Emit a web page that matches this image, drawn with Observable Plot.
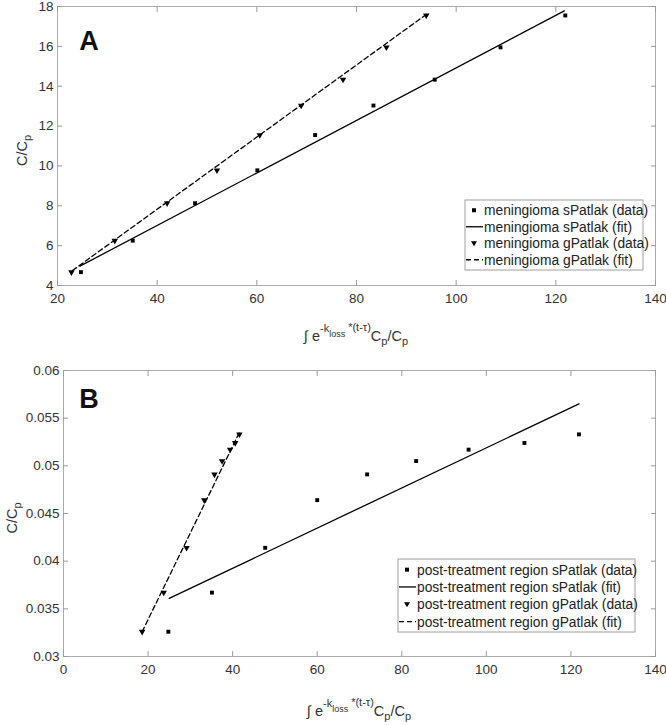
<!DOCTYPE html>
<html><head><meta charset="utf-8">
<script src="https://cdn.jsdelivr.net/npm/d3@7"></script>
<script src="https://cdn.jsdelivr.net/npm/@observablehq/plot@0.6"></script>
<style>
body{margin:0;background:#fff;}
#chart{width:666px;height:725px;}
svg{display:block}
</style></head><body><div id="chart"></div>
<script>
// ---- tick values ----
const xTicksA = [20, 40, 60, 80, 100, 120, 140];
const yTicksA = [4, 6, 8, 10, 12, 14, 16, 18];
const xTicksB = [0, 20, 40, 60, 80, 100, 120, 140];
const yTicksB = [0.03, 0.035, 0.04, 0.045, 0.05, 0.055, 0.06];

// ---- panel A: meningioma ----
const sA_x = [24.7, 35.1, 47.6, 60.1, 71.7, 83.4, 95.7, 108.9, 121.9];
const sA_y = [4.67, 6.25, 8.13, 9.78, 11.55, 13.03, 14.33, 15.95, 17.55];
const gA_x = [22.8, 31.5, 42.0, 52.0, 60.6, 68.9, 77.3, 86.0, 94.0];
const gA_y = [4.67, 6.25, 8.13, 9.78, 11.55, 13.03, 14.33, 15.95, 17.55];
const sFitA_x = [24.5, 121.7];
const sFitA_y = [4.97, 17.78];
const gFitA_x = [23.0, 94.0];
const gFitA_y = [4.75, 17.6];

// ---- panel B: post-treatment region ----
const sB_x = [24.8, 35.1, 47.7, 60.0, 71.8, 83.4, 95.8, 109.0, 121.9];
const sB_y = [0.0326, 0.0367, 0.0414, 0.0464, 0.0491, 0.0505, 0.0517, 0.0524, 0.0533];
const gB_x = [18.6, 23.7, 29.1, 33.3, 35.7, 37.5, 39.4, 40.6, 41.6];
const gB_y = [0.0326, 0.0367, 0.0414, 0.0464, 0.0491, 0.0505, 0.0517, 0.0524, 0.0533];
const sFitB_x = [25.0, 121.9];
const sFitB_y = [0.0361, 0.0565];
const gFitB_x = [18.6, 41.7];
const gFitB_y = [0.0326, 0.0536];

const legendA = ["meningioma sPatlak (data)", "meningioma sPatlak (fit)", "meningioma gPatlak (data)", "meningioma gPatlak (fit)"];
const legendB = ["post-treatment region sPatlak (data)", "post-treatment region sPatlak (fit)", "post-treatment region gPatlak (data)", "post-treatment region gPatlak (fit)"];

const FONT = "'Liberation Sans', Arial, Helvetica, sans-serif";
const TICKC = "#9a9a9a";
const TXT = "#333";

function pts(xs, ys) { return xs.map((x, i) => ({x, y: ys[i]})); }

function panel(o) {
  const fmt = o.yFmt || (d => String(d));
  return Plot.plot({
    width: 666, height: o.height,
    marginTop: o.mt, marginBottom: o.mb, marginLeft: o.ml, marginRight: o.mr,
    style: {fontFamily: FONT, fontSize: "13px", background: "#fff", color: TXT},
    x: {domain: o.xDomain},
    y: {domain: o.yDomain},
    marks: [
      Plot.frame({stroke: "#ababab"}),
      Plot.axisX(o.xTicks, {anchor: "bottom", tickSize: 0, tickPadding: 8, label: null, fill: TXT, fontSize: 13.5}),
      Plot.axisX(o.xTicks, {anchor: "bottom", tickSize: -5, fill: "none", stroke: TICKC, label: null}),
      Plot.axisX(o.xTicks, {anchor: "top", tickSize: -5, fill: "none", stroke: TICKC, label: null}),
      Plot.axisY(o.yTicks, {anchor: "left", tickSize: 0, tickPadding: 4, label: null, fill: TXT, fontSize: 13.5, tickFormat: fmt}),
      Plot.axisY(o.yTicks, {anchor: "left", tickSize: -5, fill: "none", stroke: TICKC, label: null}),
      Plot.axisY(o.yTicks, {anchor: "right", tickSize: -5, fill: "none", stroke: TICKC, label: null}),
      Plot.line(o.sFit, {x: "x", y: "y", stroke: "#000", strokeWidth: 1.3}),
      Plot.line(o.gFit, {x: "x", y: "y", stroke: "#000", strokeWidth: 1.3, strokeDasharray: "5,3"}),
      Plot.dot(o.s, {x: "x", y: "y", symbol: "square", r: 2.2, fill: "#000", stroke: "none"}),
      Plot.dot(o.g, {x: "x", y: "y", symbol: "triangle", r: 2.4, fill: "#000", stroke: "none", rotate: 180})
    ]
  });
}

function decorate(chart, o) {
  const svg = d3.select(chart);
  const [x0, x1] = chart.scale("x").range;
  const [yb, yt] = chart.scale("y").range;
  const cx = (x0 + x1) / 2, cy = (yb + yt) / 2;

  // panel letter
  svg.append("text").attr("x", x0 + o.letterDx).attr("y", yt + o.letterDy)
    .attr("text-anchor", "middle").attr("font-family", "'Liberation Sans', Arial, sans-serif")
    .attr("font-weight", "bold").attr("font-size", 27).attr("fill", "#111").text(o.letter);

  // y title C/Cp
  const yt_ = svg.append("text").attr("transform", `translate(${o.yTitleX},${cy + 5}) rotate(-90)`)
    .attr("text-anchor", "middle").attr("font-family", FONT).attr("font-size", 14.5).attr("fill", TXT);
  yt_.append("tspan").text("C/C");
  yt_.append("tspan").attr("font-size", 11).attr("dy", 4).text("p");

  // x title
  const xt = svg.append("text").attr("x", cx).attr("y", yb + o.xTitleDy)
    .attr("text-anchor", "middle").attr("font-family", FONT).attr("font-size", 14.5).attr("fill", TXT);
  xt.append("tspan").text("\u222B e");
  xt.append("tspan").attr("font-size", 11).attr("dy", -9).text("-k");
  xt.append("tspan").attr("font-size", 9).attr("dy", 5).text("loss");
  xt.append("tspan").attr("font-size", 11).attr("dy", -6).attr("dx", 3).text("*(t-\u03C4)");
  xt.append("tspan").attr("font-size", 14.5).attr("dy", 10).text("C");
  xt.append("tspan").attr("font-size", 11).attr("dy", 4).text("p");
  xt.append("tspan").attr("font-size", 14.5).attr("dy", -4).text("/C");
  xt.append("tspan").attr("font-size", 11).attr("dy", 4).text("p");

  // legend
  const L = o.legend;
  const g = svg.append("g").attr("text-anchor", "start");
  const bx = x1 - L.right - L.w, by = yb - L.bottom - L.h;
  g.append("rect").attr("x", bx).attr("y", by).attr("width", L.w).attr("height", L.h)
    .attr("fill", "#fff").attr("stroke", "#a0a0a0").attr("stroke-width", 1);
  const kinds = ["square", "line", "tri", "dash"];
  o.labels.forEach((lab, i) => {
    const ry = by + L.pad + L.step * (i + 0.5);
    const k = kinds[i];
    if (k === "square") {
      g.append("rect").attr("x", bx + L.sw / 2 - 2).attr("y", ry - 2).attr("width", 4).attr("height", 4).attr("fill", "#000");
    } else if (k === "tri") {
      const mx = bx + L.sw / 2;
      g.append("path").attr("d", `M${mx - 3},${ry - 2}L${mx + 3},${ry - 2}L${mx},${ry + 3}Z`).attr("fill", "#000");
    } else {
      g.append("line").attr("x1", bx + 1).attr("x2", bx + L.sw).attr("y1", ry).attr("y2", ry)
        .attr("stroke", "#000").attr("stroke-width", 1.3).attr("stroke-dasharray", k === "dash" ? "5,3" : null);
    }
    g.append("text").attr("x", bx + L.sw + 1).attr("y", ry + 5).attr("text-anchor", "start")
      .attr("font-family", FONT).attr("font-size", 13.8).attr("fill", "#222").text(lab);
  });
}

const chartA = panel({
  height: 350, mt: 6, mb: 65, ml: 57, mr: 11,
  xDomain: [20, 140], yDomain: [4, 18], xTicks: xTicksA, yTicks: yTicksA,
  s: pts(sA_x, sA_y), g: pts(gA_x, gA_y), sFit: pts(sFitA_x, sFitA_y), gFit: pts(gFitA_x, gFitA_y)
});
decorate(chartA, {
  letter: "A", letterDx: 32, letterDy: 44, yTitleX: 27, xTitleDy: 56,
  labels: legendA,
  legend: {w: 178, h: 70, right: 12, bottom: 15, pad: 2, step: 16.5, sw: 18}
});

const chartB = panel({
  height: 375, mt: 20, mb: 69, ml: 63, mr: 11,
  xDomain: [0, 140], yDomain: [0.03, 0.06], xTicks: xTicksB, yTicks: yTicksB,
  yFmt: d => String(+d.toFixed(3)),
  s: pts(sB_x, sB_y), g: pts(gB_x, gB_y), sFit: pts(sFitB_x, sFitB_y), gFit: pts(gFitB_x, gFitB_y)
});
decorate(chartB, {
  letter: "B", letterDx: 26, letterDy: 38, yTitleX: 17, xTitleDy: 60,
  labels: legendB,
  legend: {w: 237, h: 73, right: 20, bottom: 24, pad: 2, step: 17.3, sw: 18}
});

document.getElementById("chart").append(chartA, chartB);
</script>
</body></html>
